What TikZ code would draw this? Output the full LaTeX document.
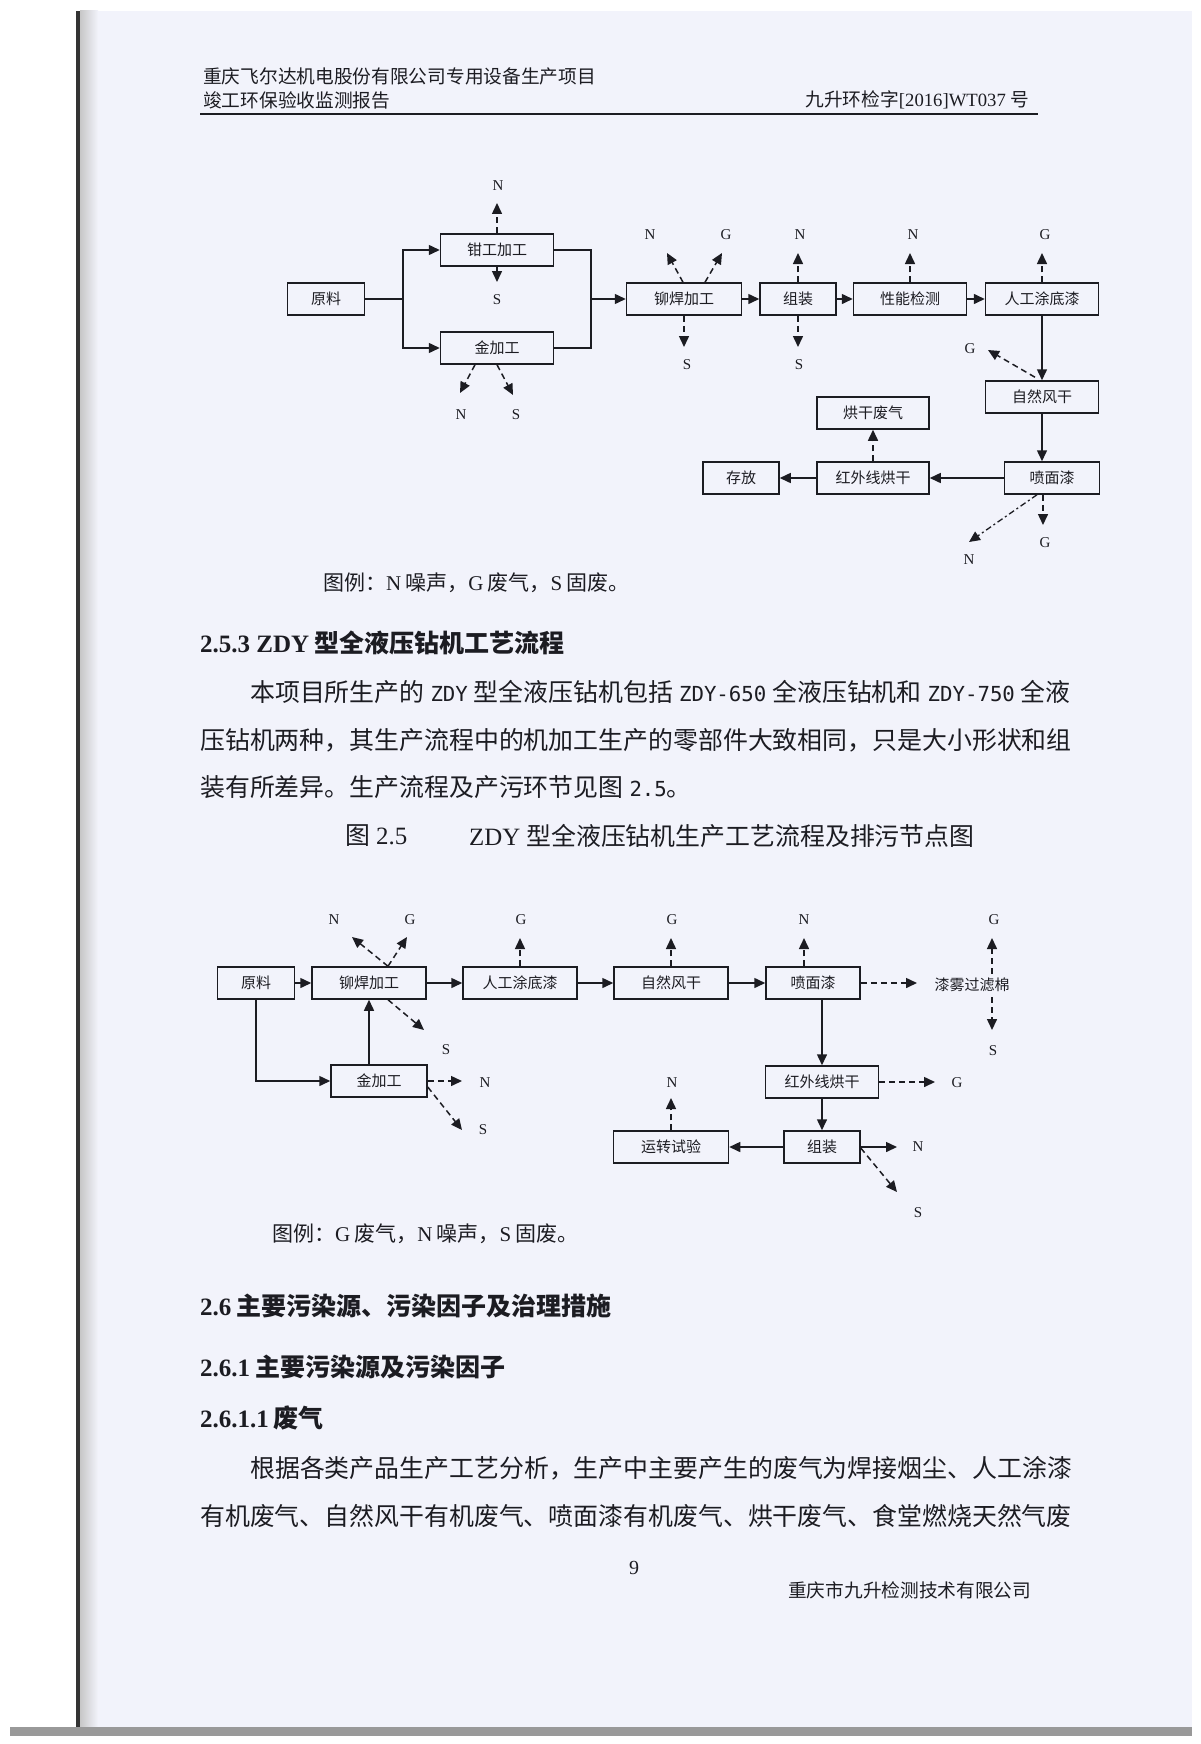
\documentclass[tikz,border=0pt]{standalone}
\usepackage{fontspec}
\setmainfont{Liberation Serif}
\newfontfamily\cjk{Noto Sans CJK SC}
\newfontfamily\monofam{DejaVu Sans Mono}
\usetikzlibrary{arrows.meta,calc}
\definecolor{pagebg}{RGB}{242,243,251}
\definecolor{ink}{RGB}{28,28,34}
\newcommand{\lat}[1]{{\rmfamily #1}}
\newcommand{\mono}[1]{{\monofam\fontsize{20.7}{24}\selectfont #1}}
\tikzset{
  box/.style={draw=ink, line width=1.5pt, minimum height=32pt, inner sep=0pt,
    font=\cjk\fontsize{15}{18}\selectfont, text=ink},
  plainline/.style={draw=ink, line width=1.5pt},
  flow/.style={draw=ink, line width=1.5pt, -{Triangle[length=11pt,width=10pt]}},
  emit/.style={draw=ink, line width=1.5pt, dash pattern=on 6pt off 4pt, -{Triangle[length=11pt,width=10pt]}},
  emitdd/.style={draw=ink, line width=1.3pt, dash pattern=on 6pt off 3pt on 2pt off 3pt, -{Triangle[length=11pt,width=10pt]}},
  lbl/.style={font=\fontsize{15}{18}\selectfont, inner sep=0pt, text=ink},
  lblc/.style={font=\cjk\fontsize{15}{18}\selectfont, inner sep=0pt, text=ink},
  hdr/.style={font=\cjk\fontsize{18.7}{22}\selectfont, inner sep=0pt, text=ink},
  body/.style={anchor=west, font=\cjk\fontsize{24.9}{30}\selectfont, inner sep=0pt, text=ink},
  legend/.style={anchor=west, font=\cjk\fontsize{21}{25}\selectfont, inner sep=0pt, text=ink},
  heading/.style={anchor=west, font=\cjk\bfseries\fontsize{25}{30}\selectfont, inner sep=0pt, text=ink},
}
\begin{document}
\begin{tikzpicture}[x=1pt,y=-1pt]
\useasboundingbox (0,0) rectangle (1200,1744);
% page
\fill[white] (0,0) rectangle (1200,1744);
\fill[pagebg] (78,11) rectangle (1192,1728);
\shade[left color=black!22, right color=pagebg] (80,11) rectangle (98,1728);
\fill[black!80] (76,11) rectangle (80,1736);
\fill[black!40] (10,1727) rectangle (1192,1736);

% header
\node[hdr, anchor=west] (h1) at (203,76) {重庆飞尔达机电股份有限公司专用设备生产项目};
\node[hdr, anchor=west] (h2) at (203,100) {竣工环保验收监测报告};
\node[hdr, anchor=east] (h3) at (1029,100) {九升环检字\lat{[2016]WT037} 号};
\draw[ink, line width=2pt] (200,114) -- (1038,114);

% ================= diagram 1 =================
\node[box, minimum width=77pt] (yl1) at (326,299) {原料};
\node[box, minimum width=113pt] (qg) at (497,250) {钳工加工};
\node[box, minimum width=113pt] (jj1) at (497,348) {金加工};
\node[box, minimum width=115pt] (mh1) at (684,299) {铆焊加工};
\node[box, minimum width=76pt] (zz1) at (798,299) {组装};
\node[box, minimum width=113pt] (xn) at (910,299) {性能检测};
\node[box, minimum width=113pt] (rg1) at (1042,299) {人工涂底漆};
\node[box, minimum width=113pt] (zr1) at (1042,397) {自然风干};
\node[box, minimum width=95pt] (pm1) at (1052,478) {喷面漆};
\node[box, minimum width=112pt] (hw1) at (873,478) {红外线烘干};
\node[box, minimum width=76pt] (cf) at (741,478) {存放};
\node[box, minimum width=112pt] (hg) at (873,413) {烘干废气};

\coordinate (j1) at (403,299);
\coordinate (j2) at (591,299);
\draw[flow] (yl1.east) -- (j1) |- (qg.west);
\draw[flow] (j1) |- (jj1.west);
\draw[plainline] (qg.east) -| (j2);
\draw[plainline] (jj1.east) -| (j2);
\draw[flow] (j2) -- (mh1.west);
\draw[flow] (mh1) -- (zz1);
\draw[flow] (zz1) -- (xn);
\draw[flow] (xn) -- (rg1);
\draw[flow] (rg1) -- (zr1);
\draw[flow] (zr1.south) -- (zr1.south |- pm1.north);
\draw[flow] (pm1) -- (hw1);
\draw[flow] (hw1) -- (cf);
\draw[emit] (hw1.north) -- (hg.south);

% emission labels diagram 1
\node[lbl] (qgN) at (498,186) {N};
\coordinate (qgNt) at (497,203);
\draw[emit] (qg.north) -- (qgNt);
\node[lbl] (qgS) at (497,300) {S};
\coordinate (qgSt) at (497,282);
\draw[emit] (qg.south) -- (qgSt);

\node[lbl] (jjN) at (461,415) {N};
\coordinate (jjNt) at (460,393);
\draw[emit] ([xshift=-22pt]jj1.south) -- (jjNt);
\node[lbl] (jjS) at (516,415) {S};
\coordinate (jjSt) at (513,395);
\draw[emit] (jj1.south) -- (jjSt);

\node[lbl] (mhN) at (650,235) {N};
\coordinate (mhNt) at (667,253);
\draw[emit] ([xshift=-1pt]mh1.north) -- (mhNt);
\node[lbl] (mhG) at (726,235) {G};
\coordinate (mhGt) at (722,253);
\draw[emit] ([xshift=21pt]mh1.north) -- (mhGt);
\node[lbl] (mhS) at (687,365) {S};
\coordinate (mhSt) at (684,347);
\draw[emit] (mh1.south) -- (mhSt);

\node[lbl] (zzN) at (800,235) {N};
\coordinate (zzNt) at (798,253);
\draw[emit] (zz1.north) -- (zzNt);
\node[lbl] (zzS) at (799,365) {S};
\coordinate (zzSt) at (798,347);
\draw[emit] (zz1.south) -- (zzSt);

\node[lbl] (xnN) at (913,235) {N};
\coordinate (xnNt) at (910,253);
\draw[emit] (xn.north) -- (xnNt);

\node[lbl] (rgG) at (1045,235) {G};
\coordinate (rgGt) at (1042,253);
\draw[emit] (rg1.north) -- (rgGt);

\node[lbl] (zrG) at (970,349) {G};
\coordinate (zrGt) at (988,350);
\draw[emit] ([xshift=-7pt,yshift=3pt]zr1.north) -- (zrGt);

\node[lbl] (pmG) at (1045,543) {G};
\coordinate (pmGt) at (1043,525);
\draw[emit] ([xshift=-9pt]pm1.south) -- (pmGt);
\node[lbl] (pmN) at (969,560) {N};
\coordinate (pmNt) at (969,542);
\draw[emitdd] ([xshift=-15pt]pm1.south) -- (pmNt);

% legend 1
\node[legend] (lg1) at (323,583) {图例：\lat{N}\hspace{4pt}噪声，\lat{G}\hspace{4pt}废气，\lat{S}\hspace{4pt}固废。};

% heading and paragraph
\node[heading] (hd1) at (200,643) {\lat{2.5.3 ZDY}\hspace{5pt}型全液压钻机工艺流程};
\node[body] (p1) at (250,692) {本项目所生产的\hspace{6pt}\mono{ZDY}\hspace{6pt}型全液压钻机包括\hspace{6pt}\mono{ZDY-650}\hspace{6pt}全液压钻机和\hspace{6pt}\mono{ZDY-750}\hspace{6pt}全液};
\node[body] (p2) at (200,740) {压钻机两种，其生产流程中的机加工生产的零部件大致相同，只是大小形状和组};
\node[body] (p3) at (200,787) {装有所差异。生产流程及产污环节见图\hspace{6pt}\mono{2.5}。};
\node[body] (cap1) at (345,836) {图\hspace{6pt}\lat{2.5}};
\node[body] (cap2) at (469,836) {\lat{ZDY}\hspace{6pt}型全液压钻机生产工艺流程及排污节点图};

% ================= diagram 2 =================
\node[box, minimum width=77pt] (yl2) at (256,983) {原料};
\node[box, minimum width=114pt] (mh2) at (369,983) {铆焊加工};
\node[box, minimum width=114pt] (rg2) at (520,983) {人工涂底漆};
\node[box, minimum width=114pt] (zr2) at (671,983) {自然风干};
\node[box, minimum width=94pt] (pm2) at (813,983) {喷面漆};
\node[lblc] (qm) at (972,985) {漆雾过滤棉};
\node[box, minimum width=96pt] (jj2) at (379,1081) {金加工};
\node[box, minimum width=113pt] (hw2) at (822,1082) {红外线烘干};
\node[box, minimum width=76pt] (zz2) at (822,1147) {组装};
\node[box, minimum width=115pt] (yz) at (671,1147) {运转试验};

\draw[flow] (yl2) -- (mh2);
\draw[flow] (mh2) -- (rg2);
\draw[flow] (rg2) -- (zr2);
\draw[flow] (zr2) -- (pm2);
\draw[flow] (hw2.north |- pm2.south) -- (hw2.north);
\draw[flow] (hw2) -- (zz2);
\draw[flow] (zz2) -- (yz);
\draw[flow] (yl2.south) |- (jj2.west);
\draw[flow] (mh2.south |- jj2.north) -- (mh2.south);

% emissions diagram 2
\node[lbl] (m2N) at (334,920) {N};
\coordinate (m2Nt) at (352,937);
\draw[emit] ([xshift=19pt]mh2.north) -- (m2Nt);
\node[lbl] (m2G) at (410,920) {G};
\coordinate (m2Gt) at (407,937);
\draw[emit] ([xshift=19pt]mh2.north) -- (m2Gt);
\node[lbl] (m2S) at (446,1050) {S};
\coordinate (m2St) at (424,1030);
\draw[emit] ([xshift=19pt]mh2.south) -- (m2St);

\node[lbl] (r2G) at (521,920) {G};
\coordinate (r2Gt) at (520,938);
\draw[emit] (rg2.north) -- (r2Gt);

\node[lbl] (z2G) at (672,920) {G};
\coordinate (z2Gt) at (671,938);
\draw[emit] (zr2.north) -- (z2Gt);

\node[lbl] (p2N) at (804,920) {N};
\coordinate (p2Nt) at (804,938);
\draw[emit] ([xshift=-9pt]pm2.north) -- (p2Nt);

\coordinate (qmt) at (917,983);
\draw[emit] (pm2.east) -- (qmt);

\node[lbl] (qmG) at (994,920) {G};
\coordinate (qmGt) at (992,938);
\draw[emit] ([xshift=20pt,yshift=4pt]qm.north) -- (qmGt);
\node[lbl] (qmS) at (993,1051) {S};
\coordinate (qmSt) at (992,1030);
\draw[emit] ([xshift=20pt,yshift=-5pt]qm.south) -- (qmSt);

\node[lbl] (j2N) at (485,1083) {N};
\coordinate (j2Nt) at (462,1081);
\draw[emit] (jj2.east) -- (j2Nt);
\node[lbl] (j2S) at (483,1130) {S};
\coordinate (j2St) at (462,1130);
\draw[emit] ([yshift=-6pt]jj2.east) -- (j2St);

\node[lbl] (h2G) at (957,1083) {G};
\coordinate (h2Gt) at (935,1082);
\draw[emit] (hw2.east) -- (h2Gt);

\node[lbl] (yzN) at (672,1083) {N};
\coordinate (yzNt) at (671,1098);
\draw[emit] (yz.north) -- (yzNt);

\node[lbl] (z2N) at (918,1147) {N};
\coordinate (z2Nt) at (897,1147);
\draw[flow] (zz2.east) -- (z2Nt);
\node[lbl] (z2S) at (918,1213) {S};
\coordinate (z2St) at (897,1192);
\draw[emit] ([yshift=-1pt]zz2.east) -- (z2St);

% legend 2
\node[legend] (lg2) at (272,1234) {图例：\lat{G}\hspace{4pt}废气，\lat{N}\hspace{4pt}噪声，\lat{S}\hspace{4pt}固废。};

% section 2.6
\node[heading] (hd2) at (200,1306) {\lat{2.6}\hspace{5pt}主要污染源、污染因子及治理措施};
\node[heading] (hd3) at (200,1367) {\lat{2.6.1}\hspace{5pt}主要污染源及污染因子};
\node[heading] (hd4) at (200,1418) {\lat{2.6.1.1}\hspace{5pt}废气};
\node[body] (q1) at (250,1468) {根据各类产品生产工艺分析，生产中主要产生的废气为焊接烟尘、人工涂漆};
\node[body] (q2) at (200,1516) {有机废气、自然风干有机废气、喷面漆有机废气、烘干废气、食堂燃烧天然气废};

% footer
\node[font=\fontsize{20}{24}\selectfont, inner sep=0pt, text=ink] (pg) at (634,1568) {9};
\node[hdr, anchor=west] (ft) at (788,1590) {重庆市九升检测技术有限公司};
\end{tikzpicture}
\end{document}
